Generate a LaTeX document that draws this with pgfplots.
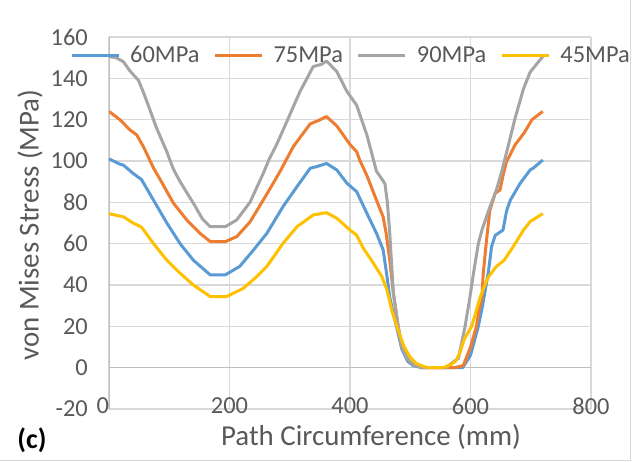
\documentclass[border=0pt]{standalone}
\usepackage{fontspec}
\setmainfont{Carlito}
\usepackage{pgfplots}
\pgfplotsset{compat=1.18}
\definecolor{c60}{HTML}{5B9BD5}
\definecolor{c75}{HTML}{ED7D31}
\definecolor{c90}{HTML}{A5A5A5}
\definecolor{c45}{HTML}{FFC000}
\definecolor{txt}{HTML}{595959}
\definecolor{grd}{HTML}{D9D9D9}
\definecolor{axl}{HTML}{BFBFBF}
\begin{document}
\begin{tikzpicture}
\path[use as bounding box] (-109bp,-53bp) rectangle (527bp,409bp);
\begin{axis}[
  at={(0,0)}, anchor=south west,
  scale only axis, width=482bp, height=372bp,
  xmin=0, xmax=800, ymin=-20, ymax=160,
  xtick={0,200,...,800}, ytick={-20,0,...,160},
  xticklabels={\llap{0},200,400,600,800},
  grid=major, major grid style={grd, line width=1.2bp},
  axis line style={draw=none},
  major tick length=0pt,
  tick label style={font=\fontsize{24.5}{27}\selectfont, text=txt},
  /pgf/number format/assume math mode=true,
  yticklabel style={anchor=east, inner sep=0pt, xshift=-21bp},
  xticklabel style={anchor=center, inner sep=0pt, yshift=3bp},
  xlabel={Path Circumference (mm)},
  ylabel={von Mises Stress (MPa)},
  label style={font=\fontsize{29}{32}\selectfont, text=txt},
  xlabel style={at={(axis description cs:0.5436,-0.0753)}, anchor=center},
  ylabel style={at={(axis description cs:-0.164,0.4946)}, anchor=center, rotate=0},
  no markers,
  legend style={at={(0.5,0.9516)}, anchor=center, draw=none, fill=none,
    legend columns=-1, font=\fontsize{24.5}{27}\selectfont, text=txt,
    nodes={inner sep=0pt},
    /tikz/every odd column/.append style={column sep=10bp},
    /tikz/every even column/.append style={column sep=14bp}},
  legend image code/.code={\draw[#1, line width=3bp] (0bp,0bp) -- (47bp,0bp);},
]
\draw[axl, line width=1.2bp] (axis cs:0,-20) -- (axis cs:0,160);
\draw[axl, line width=1.2bp] (axis cs:0,0) -- (axis cs:800,0);

\addplot[c60, line width=3bp, line join=round] table {
0 101
18 98.5
24 98
40 94
54 91
74 81
96 70
118 60
140 52
168 44.9
193 44.9
217 49
240 57
262 65
289 78
312 87.6
334 96.5
345 97.3
361 98.8
378 95.7
395 89.2
411 85.2
428 74.7
444 65
455 57
461 45
466 34
472 26
478 19
486 9
496 3
505 1
519 0
587 0
600 6
613 20
620 30
626 40
630 47
635 58.6
641 64
654 66.6
660 76
666 81
682 89
699 95.7
704 96.5
720 100.5
};
\addlegendentry{60MPa}

\addplot[c75, line width=3bp, line join=round] table {
0 124
18 120
35 115
46 112.6
57 107
74 96.5
85 91
107 79.6
129 71.5
151 65
168 61
193 61
212 63.4
234 70.5
262 84
284 95
306 107
334 118
347 119.5
361 121.5
378 117
400 108
411 104.5
416 100.5
428 93
444 81
455 73
460 65
466 52
472 36
480 20
486 10
496 4
505 1.5
519 0
573 0
588 1
600 10
610 20
614 28
619 34
621 45
626 60
632 76
641 84.4
649 86
654 93
660 100
663 101.4
674 107.8
690 114
702 120
720 124
};
\addlegendentry{75MPa}

\addplot[c90, line width=3bp, line join=round] table {
0 150.5
12 150
24 148
35 143.5
49 139
56 134
63 128.7
79 115.9
96 104.5
101 100.5
107 96
118 90
140 79.6
155 72
168 68.2
193 68.2
212 71.5
234 80
245 87
256 94
266 101
278 107.8
295 119
317 133.6
339 145.7
353 146.8
361 148.4
378 143.3
395 133.6
411 127
428 112.6
439 100.5
444 95
450 92.5
458 89
462 80
466 65
472 36
480 20
486 10
496 4
505 1.5
519 0
560 0
570 2.5
580 4.5
591 20
599 34
605 45.7
613 60
619 66.6
630 76
643 86
652 95
663 107.8
674 120.7
688 135
699 143
710 147
720 150.5
};
\addlegendentry{90MPa}

\addplot[c45, line width=3bp, line join=round] table {
0 74.5
24 73
40 70
54 68
74 60
96 52
118 45.7
140 40
168 34.4
195 34.4
223 38.4
245 44
262 49
289 60.2
312 68.2
339 73.9
361 75
378 72.3
400 66.6
411 64.2
422 57.8
439 50.5
453 44
461 38
464 34.4
470 27
480 18
490 10
500 5
510 2
525 0.3
535 0
555 0
567 1.5
575 3
582 7
590 14
602 20
616 34
624 40
630 44
643 49
656 52
671 58.6
688 66.6
699 70.7
720 74.5
};
\addlegendentry{45MPa}
\end{axis}
\node[font=\fontsize{28}{30}\selectfont\bfseries, text=black, anchor=center]
  at (-77bp,-31bp) {(c)};
\draw[grd, line width=1bp] (-109bp,-51bp) -- (521bp,-51bp) -- (521bp,409bp);
\end{tikzpicture}
\end{document}
